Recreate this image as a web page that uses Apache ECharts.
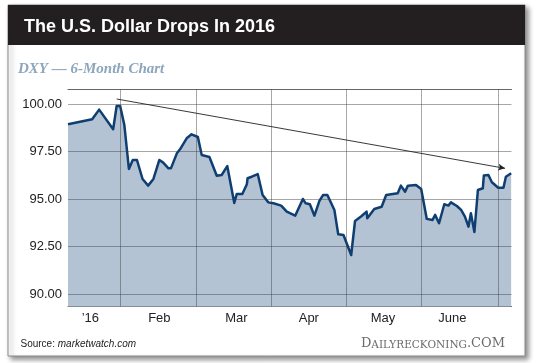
<!DOCTYPE html>
<html>
<head>
<meta charset="utf-8">
<script src="https://cdn.jsdelivr.net/npm/echarts@6/dist/echarts.min.js"></script>
<style>
  html, body { margin: 0; padding: 0; background: #ffffff; }
  #chart { width: 540px; height: 363px; }
</style>
</head>
<body>
<div id="chart"></div>
<script>
// ---- Data ----
// x = trading-day index from the start of the 6-month window
const days = [0, 6.9, 8.9, 12.9, 13.9, 14.9, 16.1, 17.4, 18.5, 19.7, 21.3, 22.9, 24.4, 26.1, 27.2, 28.7, 29.4, 31.1, 32.0, 33.9,
  35.3, 37.1, 38.2, 40.4, 42.5, 43.9, 45.5, 47.5, 48.2, 49.8, 51.1, 51.3, 52.5, 54.2, 55.6, 57.2, 58.7, 60.9, 62.5, 64.9,
  67.1, 67.9, 69.1, 70.4, 71.8, 72.9, 74.1, 76.1, 77.2, 78.7, 80.9, 82.0, 83.9, 85.3, 85.5, 87.5, 89.6, 90.9, 94.2, 95.1,
  96.3, 97.1, 99.4, 100.9, 102.5, 104.1, 104.9, 106.0, 107.5, 108.7, 109.4, 111.1, 112.3, 113.4, 114.4, 115.1, 116.1, 117.1, 118.5, 118.8,
  120.1, 121.1, 122.9, 124.4, 125.1, 126.6];
const dxy = [98.93, 99.19, 99.70, 98.67, 99.89, 99.89, 98.89, 96.58, 97.05, 97.05, 96.05, 95.70, 96.05, 97.05, 96.91, 96.61, 96.61, 97.40, 97.61, 98.19,
  98.40, 98.26, 97.31, 97.21, 96.22, 96.26, 96.73, 94.79, 95.26, 95.26, 95.77, 96.09, 96.17, 96.31, 95.21, 94.82, 94.77, 94.65, 94.33, 94.12,
  95.00, 94.77, 94.72, 94.12, 94.89, 95.21, 95.21, 94.42, 93.14, 93.10, 92.05, 93.84, 94.10, 94.33, 93.98, 94.47, 94.59, 95.21, 95.30, 95.70,
  95.38, 95.70, 95.73, 95.52, 93.95, 93.89, 94.16, 93.72, 94.72, 94.65, 94.82, 94.63, 94.42, 94.07, 93.54, 94.25, 93.26, 95.47, 95.56, 96.23,
  96.26, 95.88, 95.59, 95.59, 96.17, 96.35];

const yTicks = [90, 92.5, 95, 97.5, 100];
const monthLines = [14.86, 36.57, 58.0, 79.43, 100.86, 122.86];
const monthLabels = ['\u201916', 'Feb', 'Mar', 'Apr', 'May', 'June'];
const monthLabelPos = [6.4, 26.1, 48.1, 68.8, 90.0, 109.8];
const trendStart = [13.9, 100.26];
const trendEnd = [124.86, 96.61];

const titleText = 'The U.S. Dollar Drops In 2016';
const subtitleText = 'DXY \u2014 6-Month Chart';

// ---- Chart ----
const chart = echarts.init(document.getElementById('chart'), null, { renderer: 'canvas' });
const seriesData = days.map((d, i) => [d, dxy[i]]);

const gridColor = 'rgba(60,60,60,0.45)';
const markData = [];
yTicks.forEach(v => markData.push({ yAxis: v, lineStyle: { color: gridColor, width: 1, type: 'solid' }, symbol: 'none' }));
monthLines.forEach(v => markData.push({ xAxis: v, lineStyle: { color: gridColor, width: 1, type: 'solid' }, symbol: 'none' }));
markData.push([
  { coord: trendStart, symbol: 'none', lineStyle: { color: '#222', width: 0.9, type: 'solid' } },
  { coord: trendEnd, symbol: 'arrow', symbolSize: [5, 7] }
]);

const option = {
  animation: false,
  backgroundColor: '#ffffff',
  graphic: [
    { type: 'rect', z: -10, shape: { x: 8, y: 5, width: 517, height: 351 },
      style: { fill: '#ffffff', stroke: '#8a8a8a', lineWidth: 1, shadowBlur: 5, shadowOffsetX: 3, shadowOffsetY: 3, shadowColor: 'rgba(0,0,0,0.45)' } },
    { type: 'rect', z: -9, shape: { x: 8, y: 5, width: 517, height: 40 }, style: { fill: '#231f20' } },
    { type: 'text', z: 10, x: 24, y: 27,
      style: { text: titleText, fill: '#ffffff', font: 'bold 18px "Liberation Sans", Arial, sans-serif', verticalAlign: 'middle', align: 'left' } },
    { type: 'text', z: 10, x: 18, y: 69,
      style: { text: subtitleText, fill: '#8da6bc', font: 'italic bold 15px "Liberation Serif", "DejaVu Serif", serif', verticalAlign: 'middle', align: 'left' } },
    { type: 'text', z: 10, x: 20.5, y: 344,
      style: { text: '{a|Source: }{b|marketwatch.com}', verticalAlign: 'middle', align: 'left',
        rich: {
          a: { fontSize: 10, fontFamily: '"Liberation Sans", Arial, sans-serif', fill: '#222', color: '#222' },
          b: { fontSize: 10, fontStyle: 'italic', fontFamily: '"Liberation Sans", Arial, sans-serif', fill: '#222', color: '#222' }
        } } },
    { type: 'text', z: 10, x: 505, y: 344,
      style: { text: '{a|D}{b|AILYRECKONING}{a|.COM}', verticalAlign: 'middle', align: 'right',
        rich: {
          a: { fontSize: 13, fontFamily: '"DejaVu Serif", serif', fill: '#6b6b6b', color: '#6b6b6b', verticalAlign: 'bottom' },
          b: { fontSize: 10.5, fontFamily: '"DejaVu Serif", serif', fill: '#6b6b6b', color: '#6b6b6b', verticalAlign: 'bottom' }
        } } }
  ],
  grid: { left: 68, right: 28.5, top: 89.3, bottom: 56.5, containLabel: false },
  xAxis: [
    {
      type: 'value', min: 0, max: 126.7, position: 'bottom',
      axisLine: { show: true, lineStyle: { color: '#555', width: 1 } },
      axisTick: { show: false },
      splitLine: { show: false },
      axisLabel: {
        customValues: monthLabelPos,
        formatter: v => { const i = monthLabelPos.indexOf(v); return i >= 0 ? monthLabels[i] : ''; },
        color: '#222', fontSize: 13, fontFamily: '"Liberation Sans", Arial, sans-serif', margin: 5
      }
    },
    {
      type: 'value', min: 0, max: 126.7, position: 'top',
      axisLine: { show: true, lineStyle: { color: '#666', width: 1 } },
      axisTick: { show: false }, axisLabel: { show: false }, splitLine: { show: false }
    }
  ],
  yAxis: {
    type: 'value', min: 89.34, max: 100.77,
    axisLine: { show: false }, axisTick: { show: false }, splitLine: { show: false },
    axisLabel: {
      customValues: yTicks,
      formatter: v => v.toFixed(2),
      color: '#222', fontSize: 13, fontFamily: '"Liberation Sans", Arial, sans-serif', margin: 6
    }
  },
  series: [{
    type: 'line',
    data: seriesData,
    symbol: 'none',
    smooth: false,
    lineStyle: { color: '#0f3f72', width: 2.5, join: 'round' },
    areaStyle: { color: '#b4c3d3', opacity: 1, origin: 'start' },
    silent: true,
    markLine: {
      silent: true,
      symbol: 'none',
      label: { show: false },
      emphasis: { disabled: true },
      animation: false,
      data: markData
    }
  }]
};
chart.setOption(option);
</script>
</body>
</html>
